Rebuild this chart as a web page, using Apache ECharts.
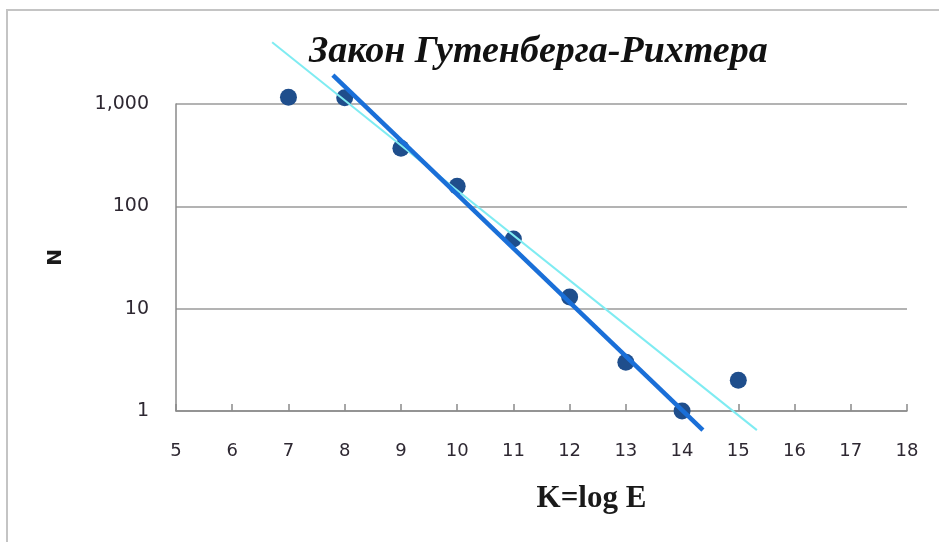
<!DOCTYPE html>
<html><head><meta charset="utf-8">
<script src="https://cdn.jsdelivr.net/npm/echarts@6/dist/echarts.min.js"></script>
<style>html,body{margin:0;padding:0;background:#fff}#c{width:939px;height:542px}</style>
</head><body><div id="c"></div>
<script>
const titleText = 'Закон Гутенберга-Рихтера';
const xName = 'K=log E';
const yName = 'N';
const kValues = [7, 8, 9, 10, 11, 12, 13, 14, 15];
const nValues = [1165, 1150, 370, 157, 48, 13, 3, 1, 2];
const fitLine = [[7.79, 1910], [14.37, 0.65]];
const trendLine = [[6.71, 4015], [15.33, 0.65]];

const chart = echarts.init(document.getElementById('c'));
chart.setOption({
  backgroundColor: '#fff',
  animation: false,
  graphic: [{type: 'rect', shape: {x: 7, y: 10, width: 940, height: 540}, style: {fill: 'none', stroke: '#c4c4c4', lineWidth: 2}}],
  title: {text: titleText, left: 304, top: 28, textStyle: {fontFamily: 'Liberation Serif', fontStyle: 'italic', fontWeight: 'bold', fontSize: 38, color: '#111'}},
  grid: {left: 176, right: 32, top: 104, bottom: 131},
  xAxis: {
    type: 'value', min: 5, max: 18, interval: 1,
    name: xName, nameLocation: 'middle', nameGap: 72,
    nameTextStyle: {fontFamily: 'Liberation Serif', fontWeight: 'bold', fontSize: 31, color: '#1a1a1a', padding: [0, 0, 0, 100]},
    axisLine: {show: true, lineStyle: {color: '#8a8a8a', width: 1.5}},
    axisTick: {show: true, inside: true, length: 7, lineStyle: {color: '#8a8a8a', width: 1.5}},
    axisLabel: {margin: 31, fontFamily: 'DejaVu Sans', fontSize: 18, color: '#2e2832'},
    splitLine: {show: false}
  },
  yAxis: {
    type: 'log', logBase: 10, min: 1, max: 1000,
    name: yName, nameLocation: 'middle', nameGap: 110, nameRotate: 90,
    nameTextStyle: {fontFamily: 'DejaVu Sans', fontWeight: 'bold', fontSize: 20, color: '#1a1a1a'},
    axisLine: {show: true, lineStyle: {color: '#8a8a8a', width: 1.5}},
    axisTick: {show: false},
    axisLabel: {margin: 27, fontFamily: 'DejaVu Sans', fontSize: 19, color: '#2e2832', formatter: v => Number(v).toLocaleString('en-US')},
    splitLine: {show: true, lineStyle: {color: '#9a9a9a', width: 1.5}}
  },
  series: [
    {type: 'scatter', data: kValues.map((k, i) => [k, nValues[i]]), symbolSize: 17, clip: false, z: 2,
     itemStyle: {color: '#1f4e8c', opacity: 1}},
    {type: 'line', data: trendLine, clip: false, symbol: 'none', z: 3, lineStyle: {color: '#7fecf2', width: 2}},
    {type: 'line', data: fitLine, clip: false, symbol: 'none', z: 4, lineStyle: {color: '#1a6fd8', width: 4.5}}
  ]
});
</script></body></html>
